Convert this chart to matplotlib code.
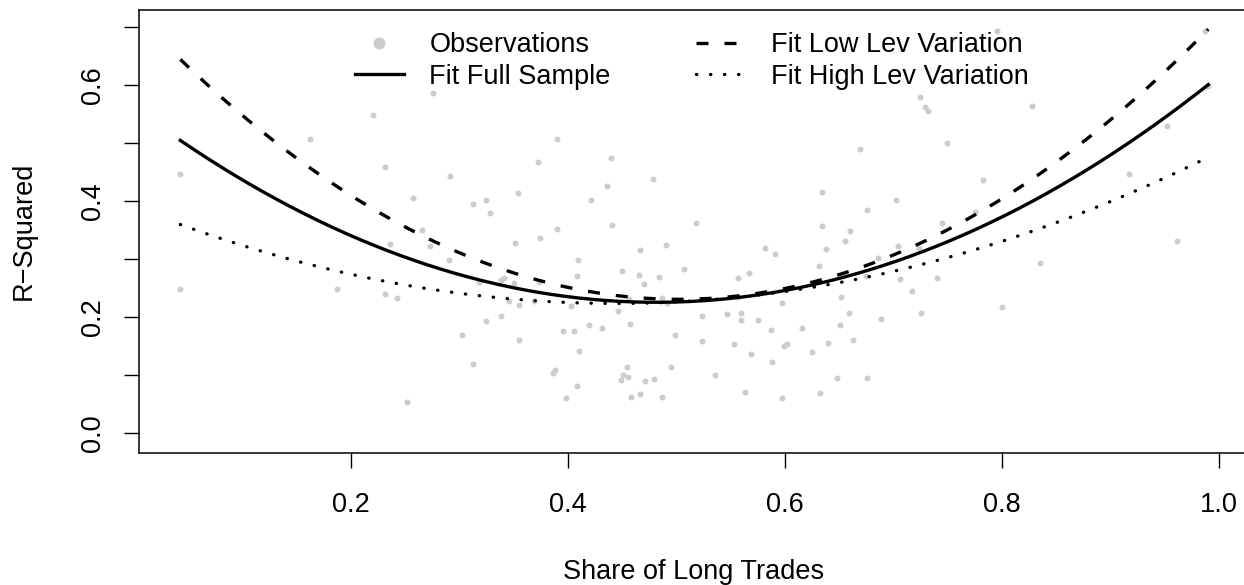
import numpy as np
import matplotlib
matplotlib.use("Agg")
import matplotlib.pyplot as plt
from matplotlib.lines import Line2D

plt.rcParams['font.family'] = ['Liberation Sans', 'DejaVu Sans']

# ---- Observations (share of long trades, R-squared) ----
obs_x = [0.2197, 0.1622, 0.2308, 0.0424, 0.2569, 0.2753, 0.3899, 0.3724, 0.4394, 0.2912,
         0.4783, 0.4354, 0.3539, 0.4209, 0.3119, 0.3244, 0.3281, 0.2652, 0.3899, 0.4403,
         0.3742, 0.7241, 0.7290, 0.7318, 0.7488, 0.6688, 0.6341, 0.7017, 0.6750, 0.5180,
         0.6341, 0.6594, 0.7441, 0.7948, 0.9868, 0.9899, 0.8274, 0.9515, 0.7819, 0.9168,
         0.7751, 0.2354, 0.0424, 0.1865, 0.2311, 0.2418, 0.2511, 0.2728, 0.3509, 0.4664,
         0.4903, 0.2898, 0.4089, 0.5066, 0.4495, 0.4654, 0.4839, 0.4077, 0.3405, 0.3382,
         0.3174, 0.3497, 0.3730, 0.4695, 0.4559, 0.3451, 0.3548, 0.3681, 0.4022, 0.4864,
         0.4910, 0.4458, 0.3239, 0.3382, 0.4191, 0.4313, 0.4566, 0.3948, 0.4055, 0.3023,
         0.3543, 0.4981, 0.4096, 0.3122, 0.4944, 0.4544, 0.3880, 0.3862, 0.4501, 0.4550,
         0.4483, 0.4704, 0.4787, 0.4083, 0.3979, 0.4581, 0.4661, 0.4864, 0.5813, 0.5902,
         0.6375, 0.6547, 0.7041, 0.7235, 0.5561, 0.5663, 0.6308, 0.6852, 0.6744, 0.7057,
         0.7401, 0.7165, 0.5561, 0.6513, 0.5972, 0.5235, 0.5463, 0.5589, 0.5589, 0.5746,
         0.6584, 0.6879, 0.7251, 0.5871, 0.6157, 0.6507, 0.5235, 0.5524, 0.5985, 0.6013,
         0.6391, 0.6624, 0.5687, 0.6246, 0.5877, 0.5352, 0.6479, 0.6750, 0.5631, 0.6320,
         0.5967, 0.9610, 0.8350, 0.7994]
obs_y = [0.5484, 0.5071, 0.4584, 0.4468, 0.4050, 0.5857, 0.5071, 0.4675, 0.4738, 0.4434,
         0.4377, 0.4262, 0.4136, 0.4021, 0.3952, 0.4021, 0.3797, 0.3504, 0.3522, 0.3585,
         0.3370, 0.5788, 0.5611, 0.5553, 0.5002, 0.4899, 0.4158, 0.4021, 0.3849, 0.3625,
         0.3573, 0.3477, 0.3625, 0.6930, 0.6919, 0.5983, 0.5639, 0.5294, 0.4365, 0.4468,
         0.3804, 0.3263, 0.2489, 0.2489, 0.2403, 0.2329, 0.0544, 0.3224, 0.3281, 0.3155,
         0.3241, 0.2983, 0.2983, 0.2833, 0.2793, 0.2725, 0.2695, 0.2707, 0.2678, 0.2633,
         0.2609, 0.2592, 0.2599, 0.2575, 0.2306, 0.2277, 0.2208, 0.2277, 0.2191, 0.2324,
         0.2248, 0.2105, 0.1933, 0.2019, 0.1864, 0.1818, 0.1886, 0.1761, 0.1761, 0.1692,
         0.1606, 0.1692, 0.1417, 0.1193, 0.1141, 0.1141, 0.1090, 0.1038, 0.1009, 0.0969,
         0.0918, 0.0900, 0.0935, 0.0814, 0.0608, 0.0625, 0.0681, 0.0625, 0.3189, 0.3091,
         0.3172, 0.3310, 0.3224, 0.3189, 0.2678, 0.2764, 0.2880, 0.3017, 0.2707, 0.2661,
         0.2678, 0.2454, 0.2351, 0.2351, 0.2248, 0.2024, 0.2059, 0.2071, 0.1955, 0.1955,
         0.2076, 0.1972, 0.2076, 0.1778, 0.1818, 0.1869, 0.1589, 0.1542, 0.1508, 0.1537,
         0.1559, 0.1606, 0.1370, 0.1404, 0.1232, 0.1009, 0.0957, 0.0957, 0.0716, 0.0699,
         0.0608, 0.3310, 0.2936, 0.2179]

# ---- Fitted curves: values (quadratic fits) ----
full_x = [0.042, 0.206, 0.348, 0.410, 0.471, 0.509, 0.601, 0.662, 0.763, 0.990]
full_y = [0.504, 0.337, 0.253, 0.228, 0.225, 0.228, 0.245, 0.276, 0.340, 0.600]
low_x = [0.042, 0.139, 0.255, 0.342, 0.416, 0.493, 0.518, 0.616, 0.693, 0.761, 0.987]
low_y = [0.646, 0.485, 0.353, 0.279, 0.245, 0.231, 0.231, 0.255, 0.301, 0.365, 0.689]
high_x = [0.042, 0.079, 0.255, 0.357, 0.434, 0.502, 0.628, 0.692, 0.767, 0.925, 0.984]
high_y = [0.359, 0.336, 0.254, 0.231, 0.223, 0.226, 0.252, 0.275, 0.312, 0.419, 0.470]

labels = ["Observations", "Fit Full Sample", "Fit Low Lev Variation", "Fit High Lev Variation"]
x_ticks = [0.2, 0.4, 0.6, 0.8, 1.0]
y_ticks = [0.0, 0.1, 0.2, 0.3, 0.4, 0.5, 0.6, 0.7]
y_ticklabels = ["0.0", "", "0.2", "", "0.4", "", "0.6", ""]

FS = 19.5
W, H = 1244, 585
fig = plt.figure(figsize=(W / 100, H / 100), dpi=100)
ax = fig.add_axes([139 / W, (H - 452.5) / H, 1110 / W, 442.5 / H])

ax.scatter(obs_x, obs_y, s=18.5, color="#CCCCCC", linewidths=0, zorder=1)

xs = np.linspace(min(obs_x), max(obs_x), 300)
lw = 2.4
for px, py, style in [(full_x, full_y, "solid"), (low_x, low_y, "dashed"), (high_x, high_y, "dotted")]:
    coef = np.polyfit(px, py, 2)
    ys = np.polyval(coef, xs)
    if style == "solid":
        ax.plot(xs, ys, color="black", lw=lw, zorder=3)
    elif style == "dashed":
        ax.plot(xs, ys, color="black", lw=lw, dashes=(3.6, 4.8), dash_capstyle="butt", zorder=3)
    else:
        ax.plot(xs, ys, color="black", lw=lw, dashes=(0.1, 4.1), dash_capstyle="round", zorder=3)

ax.set_xlim(0.0043, 1.0274)
ax.set_ylim(-0.033, 0.7286)
ax.set_xticks(x_ticks)
ax.set_xticklabels(["0.2", "0.4", "0.6", "0.8", "1.0"])
ax.set_yticks(y_ticks)
ax.set_yticklabels(y_ticklabels, rotation=90, va="center")

for s in ax.spines.values():
    s.set_linewidth(1.1)
ax.tick_params(axis="both", direction="out", length=10.8, width=1.0, labelsize=FS, colors="black")
ax.tick_params(axis="x", pad=18)
ax.tick_params(axis="y", pad=13)

ax.set_xlabel("Share of Long Trades", fontsize=FS)
ax.set_ylabel("R\u2212Squared", fontsize=FS)
ax.xaxis.set_label_coords(0.5, -0.241)
ax.yaxis.set_label_coords(-0.092, 0.5)

handles = [
    Line2D([], [], marker="o", color="#CCCCCC", linestyle="none", markersize=8.6, markeredgewidth=0),
    Line2D([], [], color="black", lw=lw),
    Line2D([], [], color="black", lw=lw, dashes=(3.6, 4.8)),
    Line2D([], [], color="black", lw=lw, dashes=(0.1, 4.1), dash_capstyle="round"),
]
ax.legend(handles, labels, loc="upper left", bbox_to_anchor=(354.7 / W, 1 - 32.5 / H),
          bbox_transform=fig.transFigure, ncol=2, frameon=False, borderpad=0,
          borderaxespad=0, handlelength=1.82, handletextpad=0.94, columnspacing=3.15,
          labelspacing=0.2, fontsize=FS)

fig.savefig("out.png", dpi=100)
